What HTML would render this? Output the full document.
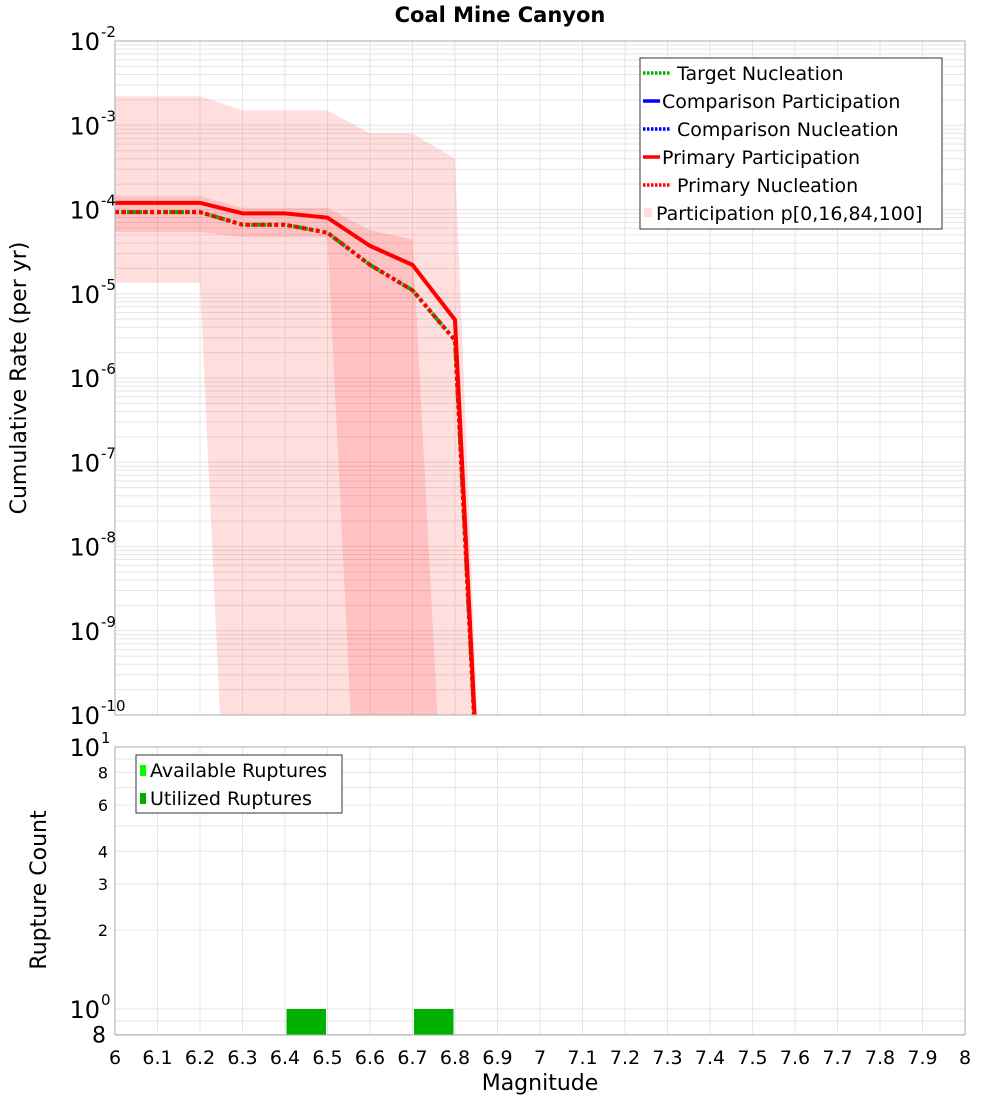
<!DOCTYPE html>
<html><head><meta charset="utf-8"><style>
body{margin:0;background:#fff;}
svg text{font-family:"DejaVu Sans","Liberation Sans",sans-serif;}
</style></head><body>
<svg id="chart" width="1000" height="1100" viewBox="0 0 1000 1100" xmlns="http://www.w3.org/2000/svg">
<defs>
<clipPath id="clipTop"><rect x="115" y="41" width="850" height="674"/></clipPath>
<clipPath id="clipBot"><rect x="115" y="747" width="850" height="288"/></clipPath>
</defs>
<text x="500" y="22" text-anchor="middle" font-size="21" font-weight="bold">Coal Mine Canyon</text>
<g id="topG"></g>
<g id="botG"></g>
<text transform="translate(26,378) rotate(-90)" text-anchor="middle" font-size="22">Cumulative Rate (per yr)</text>
<text transform="translate(46,890) rotate(-90)" text-anchor="middle" font-size="22">Rupture Count</text>
<text x="540" y="1090" text-anchor="middle" font-size="22">Magnitude</text>
</svg>
<script>
// ---- data ----
const mags = [6.0, 6.1, 6.2, 6.3, 6.4, 6.5, 6.6, 6.7, 6.8, 6.9];
const primaryPart = [1.2e-4, 1.2e-4, 1.2e-4, 9e-5, 9e-5, 8e-5, 3.7e-5, 2.2e-5, 4.9e-6, 3e-16];
const primaryNucl = [9.3e-5, 9.3e-5, 9.3e-5, 6.6e-5, 6.6e-5, 5.3e-5, 2.2e-5, 1.1e-5, 2.8e-6, 3e-16];
const outerUpper = [2.2e-3, 2.2e-3, 2.2e-3, 1.5e-3, 1.5e-3, 1.5e-3, 8e-4, 8e-4, 4e-4, 1e-16];
const outerLower = [1.35e-5, 1.35e-5, 1.35e-5, 1.6e-16, 1e-16, 1e-16, 1e-16, 1e-16, 1e-16, 1e-16];
const midUpper = [1.44e-4, 1.44e-4, 1.44e-4, 1.05e-4, 1.05e-4, 1.05e-4, 5.7e-5, 4.4e-5, 1e-14, 1e-16];
const midLower = [5.4e-5, 5.4e-5, 5.4e-5, 4.7e-5, 4.7e-5, 4.7e-5, 2e-15, 1e-16, 1e-16, 1e-16];
const barStarts = [6.4, 6.7];
const barEnds = [6.5, 6.8];
const utilizedCounts = [1, 1];
const xTicks = ["6","6.1","6.2","6.3","6.4","6.5","6.6","6.7","6.8","6.9","7","7.1","7.2","7.3","7.4","7.5","7.6","7.7","7.8","7.9","8"];
const topDecades = [-2,-3,-4,-5,-6,-7,-8,-9,-10];
const botMinorTicks = ["8","6","4","3","2"];

const NS="http://www.w3.org/2000/svg";
function mk(parent,tag,attrs,txt){const e=document.createElementNS(NS,tag);for(const k in attrs)e.setAttribute(k,attrs[k]);if(txt!==undefined)e.textContent=txt;parent.appendChild(e);return e;}
const X0=115,X1=965;
const xs=m=>X0+(m-6)/2*(X1-X0);
const yTop=v=>41+(-2-Math.log10(v))*84.25;
const yBot=v=>747+(1-Math.log10(v))*262;

const topG=document.getElementById('topG');
const botG=document.getElementById('botG');

// top grid
let g=mk(topG,'g',{});


for(let d=-10;d<-2;d++){for(let k=1;k<10;k++){const y=yTop(k*Math.pow(10,d));mk(g,'line',{x1:X0,x2:X1,y1:y,y2:y,stroke:'#e6e6e6','stroke-width':1});}}
for(let i=0;i<=20;i++){const x=xs(6+i*0.1);mk(g,'line',{x1:x,x2:x,y1:41,y2:715,stroke:'#e6e6e6','stroke-width':1});}

// bands
function band(up,lo,name,op){const pts=[];mags.forEach((m,i)=>pts.push(xs(m)+','+yTop(up[i])));for(let i=mags.length-1;i>=0;i--)pts.push(xs(mags[i])+','+yTop(lo[i]));
const p=mk(topG,'polygon',{points:pts.join(' '),fill:'rgb(255,0,0)','fill-opacity':op,'clip-path':'url(#clipTop)'});

}
band(outerUpper,outerLower,'participation-band-0-100',0.13);
band(midUpper,midLower,'participation-band-16-84',0.13);

function line(vals,name,color,dash){const pts=mags.map((m,i)=>xs(m)+','+yTop(vals[i])).join(' ');
const attrs={points:pts,fill:'none',stroke:color,'stroke-width':4,'clip-path':'url(#clipTop)'};if(dash)attrs['stroke-dasharray']=dash;
const p=mk(topG,'polyline',attrs);

}
line(primaryNucl,'target-nucleation-line','#00b000','3,3');
line(primaryNucl,'primary-nucleation-line','#ff0000','4,3');
line(primaryPart,'primary-participation-line','#ff0000',null);
const fr=mk(topG,'rect',{x:X0,y:41,width:850,height:674,fill:'none',stroke:'#aaa'});



// top y labels
topDecades.forEach(d=>{const y=yTop(Math.pow(10,d));const t=mk(topG,'text',{x:100,y:y+9,'text-anchor':'end','font-size':24},'10');


mk(topG,'text',{x:101,y:y-4,'font-size':15},String(d));});

// top legend
const lg=mk(topG,'g',{});


mk(lg,'rect',{x:640,y:58,width:302,height:171,fill:'#fff',stroke:'#333'});
const items=[["Target Nucleation","#00b000",true],["Comparison Participation","#0000ff",false],["Comparison Nucleation","#0000ff",true],["Primary Participation","#ff0000",false],["Primary Nucleation","#ff0000",true]];
items.forEach((it,i)=>{const y=73+i*28;const a={x1:643,x2:660,y1:y,y2:y,stroke:it[1],'stroke-width':3.5};if(it[2]){a['stroke-dasharray']='2.5,1.5';a.x2=670;}mk(lg,'line',a);
const t=mk(lg,'text',{x:it[2]?677:662,y:y+7,'font-size':19},it[0]);

});
mk(lg,'rect',{x:644,y:208,width:8,height:9,fill:'#ffdede'});
const lt=mk(lg,'text',{x:656,y:220,'font-size':19},'Participation p[0,16,84,100]');



// bottom grid
g=mk(botG,'g',{});


[0.8,0.9,1,2,3,4,5,6,7,8,9,10].forEach(v=>{const y=yBot(v);mk(g,'line',{x1:X0,x2:X1,y1:y,y2:y,stroke:'#e6e6e6'});});
for(let i=0;i<=20;i++){const x=xs(6+i*0.1);mk(g,'line',{x1:x,x2:x,y1:747,y2:1035,stroke:'#e6e6e6'});}
barStarts.forEach((s,i)=>{const x=xs(s)+1.5,w=xs(barEnds[i])-xs(s)-3;const y=yBot(utilizedCounts[i]);
const r=mk(botG,'rect',{x:x,y:y,width:w,height:1035-y,fill:'#00b000','clip-path':'url(#clipBot)'});

});
const fb=mk(botG,'rect',{x:X0,y:747,width:850,height:288,fill:'none',stroke:'#aaa'});


// bottom y labels
[[10,'1'],[1,'0']].forEach(p=>{const y=yBot(p[0]);mk(botG,'text',{x:100,y:y+9,'text-anchor':'end','font-size':24},'10');mk(botG,'text',{x:101,y:y-4,'font-size':15},p[1]);});
botMinorTicks.forEach(s=>{const y=yBot(+s);mk(botG,'text',{x:108,y:y+6,'text-anchor':'end','font-size':16},s);});
mk(botG,'text',{x:106,y:yBot(0.8)+8,'text-anchor':'end','font-size':22},'8');
// x ticks
xTicks.forEach((s,i)=>{const t=mk(botG,'text',{x:xs(6+i*0.1),y:1064,'text-anchor':'middle','font-size':19},s);

});
// bottom legend
const bl=mk(botG,'g',{});


mk(bl,'rect',{x:136,y:755,width:206,height:58,fill:'#fff',stroke:'#333'});
mk(bl,'rect',{x:140,y:765,width:6,height:11,fill:'#00ff00'});
mk(bl,'text',{x:150,y:777,'font-size':19},'Available Ruptures');
mk(bl,'rect',{x:140,y:793,width:6,height:11,fill:'#00b000'});
mk(bl,'text',{x:150,y:805,'font-size':19},'Utilized Ruptures');
</script>
</body></html>
